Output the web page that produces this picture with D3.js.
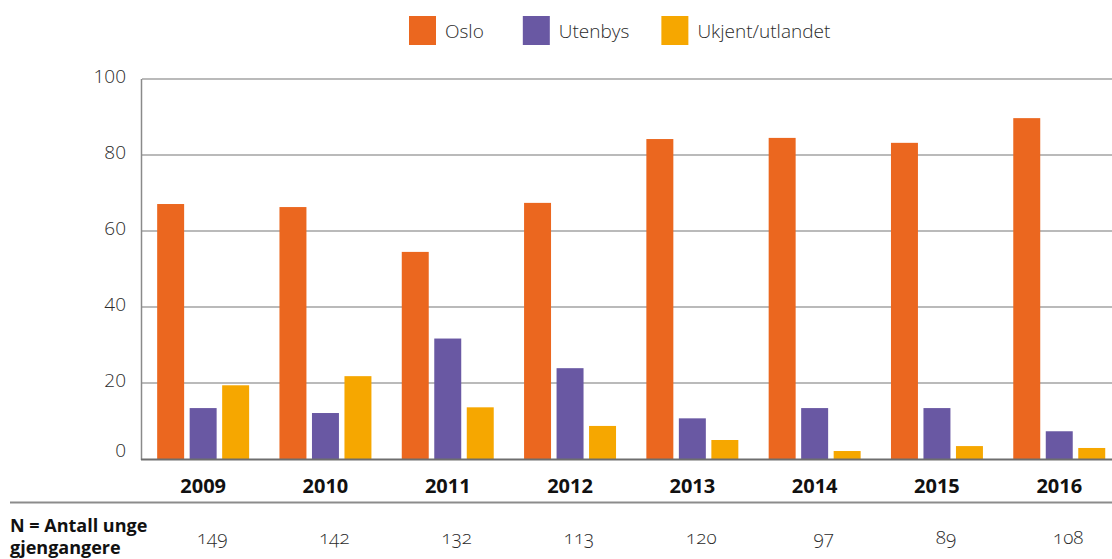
<!DOCTYPE html>
<html>
<head>
<meta charset="utf-8">
<script src="https://cdnjs.cloudflare.com/ajax/libs/d3/7.8.5/d3.min.js"></script>
<style>
  body { margin: 0; background: #fff; }
  svg { display: block; font-family: "Open Sans", "Noto Sans", sans-serif; }
</style>
</head>
<body>
<svg id="chart" width="1112" height="559"></svg>
<script>
const years = ["2009", "2010", "2011", "2012", "2013", "2014", "2015", "2016"]
const seriesNames = ["Oslo", "Utenbys", "Ukjent/utlandet"]
const seriesColors = ["#eb671f", "#6958a3", "#f6a700"]
const oslo = [67.1, 66.3, 54.5, 67.4, 84.2, 84.5, 83.2, 89.7]
const utenbys = [13.4, 12.1, 31.7, 23.9, 10.7, 13.4, 13.4, 7.3]
const ukjent = [19.4, 21.8, 13.6, 8.7, 5.0, 2.1, 3.4, 2.9]
const nValues = ["149", "142", "132", "113", "120", "97", "89", "108"]
const yTicks = [0, 20, 40, 60, 80, 100]

const seriesValues = [oslo, utenbys, ukjent]
const rows = years.map((yr, i) => ({
    year: yr,
    values: seriesNames.map((s, j) => ({ key: s, value: seriesValues[j][i], color: seriesColors[j] }))
}))

const svg = d3.select('#chart')
const plotLeft = 142, plotRight = 1120.4, plotTop = 79, plotBottom = 459

let y = d3.scaleLinear().domain([0, 100]).range([plotBottom, plotTop])
let x0 = d3.scaleBand().domain(years).range([plotLeft, plotRight]).paddingInner(0.248).paddingOuter(0.124)
let x1 = d3.scaleBand().domain(seriesNames).range([0, x0.bandwidth()]).paddingInner(0.17)

// gridlines
svg.append('g')
    .selectAll('line')
    .data(yTicks.filter(d => d > 0))
    .join('line')
    .attr('x1', plotLeft)
    .attr('x2', 1112)
    .attr('y1', d => y(d))
    .attr('y2', d => y(d))
    .attr('stroke', '#a3a3a3')
    .attr('stroke-width', 1.6)

// y tick labels
svg.append('g')
    .selectAll('text')
    .data(yTicks)
    .join('text')
    .attr('x', 126)
    .attr('y', d => y(d) + (d === 0 ? -8.5 : -3))
    .attr('dy', '0.35em')
    .attr('text-anchor', 'end')
    .attr('font-size', 19)
    .attr('font-weight', 300)
    .attr('fill', '#2b2b2b')
    .text(d => d)

// bars
let groups = svg.append('g')
    .selectAll('g')
    .data(rows)
    .join('g')
    .attr('transform', d => `translate(${x0(d.year)},0)`)

groups.selectAll('rect')
    .data(d => d.values)
    .join('rect')
    .attr('x', d => x1(d.key))
    .attr('width', x1.bandwidth())
    .attr('y', d => y(d.value))
    .attr('height', d => y(0) - y(d.value))
    .attr('fill', d => d.color)

// axes lines
svg.append('line')
    .attr('x1', plotLeft - 0.5).attr('x2', plotLeft - 0.5)
    .attr('y1', plotTop).attr('y2', plotBottom + 1)
    .attr('stroke', '#8a8a8a').attr('stroke-width', 1.5)
svg.append('line')
    .attr('x1', plotLeft - 1).attr('x2', 1112)
    .attr('y1', plotBottom + 0.5).attr('y2', plotBottom + 0.5)
    .attr('stroke', '#6e6e6e').attr('stroke-width', 1.8)

// year labels
svg.append('g')
    .selectAll('text')
    .data(years)
    .join('text')
    .attr('x', d => x0(d) + x0.bandwidth() / 2)
    .attr('y', 493)
    .attr('text-anchor', 'middle')
    .attr('font-size', 20)
    .attr('font-weight', 700)
    .attr('fill', '#111')
    .text(d => d)

// separator
svg.append('line')
    .attr('x1', 10).attr('x2', 1112)
    .attr('y1', 502.5).attr('y2', 502.5)
    .attr('stroke', '#8c8c8c').attr('stroke-width', 2)

// N row
svg.append('text')
    .attr('x', 10)
    .attr('y', 531.5)
    .attr('font-size', 18)
    .attr('font-weight', 700)
    .attr('fill', '#111')
    .text('N = Antall unge')
svg.append('text')
    .attr('x', 10)
    .attr('y', 553.5)
    .attr('font-size', 18)
    .attr('font-weight', 700)
    .attr('fill', '#111')
    .text('gjengangere')

svg.append('g')
    .selectAll('text')
    .data(years.map((yr, i) => ({ year: yr, n: nValues[i] })))
    .join('text')
    .attr('x', d => x0(d.year) + x0.bandwidth() / 2 + 9)
    .attr('y', 544)
    .attr('text-anchor', 'middle')
    .attr('font-size', 19)
    .attr('font-weight', 300)
    .attr('fill', '#2b2b2b')
    .style('font-variant-numeric', 'oldstyle-nums')
    .text(d => d.n)

// legend
let legend = svg.append('g')
let lx = 409
const legendGaps = [39, 32, 0]
seriesNames.forEach((s, i) => {
    let item = legend.append('g').attr('transform', `translate(${lx},16)`)
    item.append('rect')
        .attr('width', 27)
        .attr('height', 29)
        .attr('fill', seriesColors[i])
    let t = item.append('text')
        .attr('x', 36)
        .attr('y', 15)
        .attr('dy', '0.35em')
        .attr('font-size', 19)
        .attr('font-weight', 300)
        .attr('fill', '#2b2b2b')
        .text(s)
    lx += 36 + t.node().getComputedTextLength() + legendGaps[i]
})
</script>
</body>
</html>
